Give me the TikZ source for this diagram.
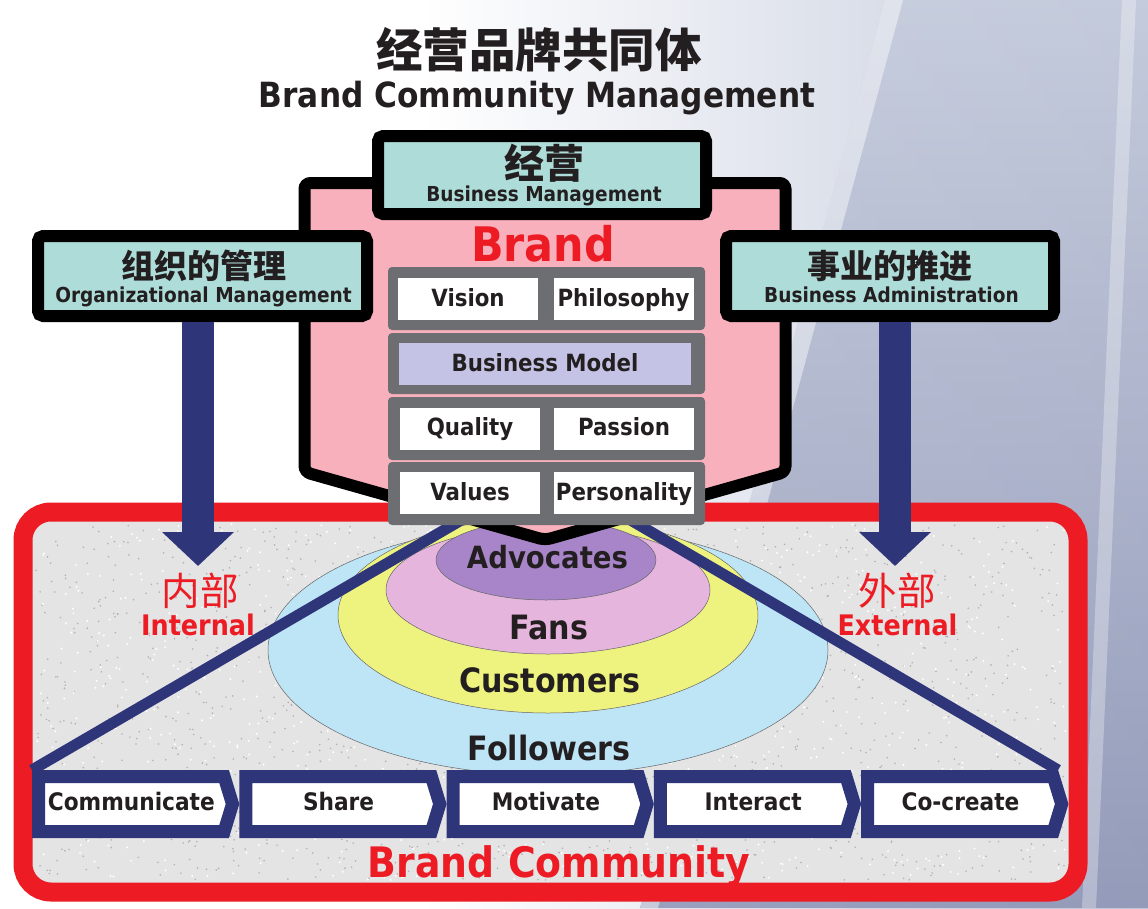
\documentclass[tikz,border=0pt]{standalone}
\usepackage{fontspec}
\setmainfont{DejaVu Sans}[FakeStretch=0.9]
\newfontfamily\cjk{Noto Sans CJK SC}
\usetikzlibrary{arrows.meta,positioning,shapes.symbols}

\definecolor{brandred}{RGB}{237,28,36}
\definecolor{navy}{RGB}{46,53,121}
\definecolor{boxteal}{RGB}{174,221,217}
\definecolor{housepink}{RGB}{248,176,189}
\definecolor{stackgray}{RGB}{109,110,113}
\definecolor{modellilac}{RGB}{197,195,229}
\definecolor{ringblue}{RGB}{190,229,246}
\definecolor{ringyellow}{RGB}{238,242,127}
\definecolor{ringpink}{RGB}{230,181,221}
\definecolor{ringpurple}{RGB}{168,133,200}
\definecolor{granite}{RGB}{228,228,228}
\definecolor{inktext}{RGB}{35,31,32}
\definecolor{bgblue}{RGB}{196,203,220}
\definecolor{bgdeep}{RGB}{140,147,180}

\tikzset{
  tealbox/.style={draw=black, line width=12pt, fill=boxteal, rounded corners=5pt},
  stackrow/.style={fill=stackgray, rounded corners=4pt},
  cell/.style={fill=white, minimum width=140pt, minimum height=42pt, inner sep=0pt,
    text height=18pt, text depth=4pt, text=inktext,
    font=\bfseries\fontsize{23.7}{26}\selectfont},
  procstep/.style={signal, signal to=east, signal pointer angle=146, draw=navy,
    line width=13pt, fill=white, minimum width=194pt, minimum height=55pt,
    inner sep=0pt, text height=18pt, text depth=6pt, text=inktext,
    font=\bfseries\fontsize{24.1}{27}\selectfont},
  ring/.style={draw=black!60, line width=0.5pt},
  ringlabel/.style={anchor=base, text=inktext, font=\bfseries\fontsize{33.5}{36}\selectfont},
  funnel/.style={draw=navy, line width=11pt},
  blockarrow/.style={navy, line width=32pt, -{Triangle[length=34pt,width=70pt]}},
  boxlabel/.style={anchor=base, text=inktext, font=\bfseries\fontsize{20.6}{24}\selectfont},
  boxcjk/.style={text=inktext, inner sep=0pt, font=\cjk\bfseries\fontsize{33}{36}\selectfont},
  sidecjk/.style={text=brandred, inner sep=0pt, font=\cjk\fontsize{38.5}{42}\selectfont},
  sidelabel/.style={anchor=base, text=brandred, font=\bfseries\fontsize{28.3}{31}\selectfont},
}

\begin{document}
\begin{tikzpicture}[x=1pt, y=-1pt]

    \useasboundingbox (0,0) rectangle (1148,908);

    % Background
    \fill[white] (0,0) rectangle (1148,908);
    \shade[left color=white, right color=bgblue] (420,0) rectangle (1148,908);
    \shade[top color=bgblue, bottom color=bgdeep, opacity=0.85]
        (885,0) -- (1148,0) -- (1148,908) -- (640,908) -- cycle;
    \fill[white, opacity=0.45] (885,0) -- (903,0) -- (658,908) -- (640,908) -- cycle;
    \fill[white, opacity=0.3] (1122,0) -- (1136,0) -- (1096,908) -- (1082,908) -- cycle;

    % Brand community frame
    \fill[granite, rounded corners=28pt] (23,512) rectangle (1078,892);
    \pgfmathsetseed{7}
    \foreach \k in {1,...,1600} {
        \pgfmathsetmacro{\dx}{36+1030*rnd}
        \pgfmathsetmacro{\dy}{524+356*rnd}
        \fill[black!30] (\dx,\dy) circle (0.9pt);
    }
    \foreach \k in {1,...,900} {
        \pgfmathsetmacro{\dx}{36+1030*rnd}
        \pgfmathsetmacro{\dy}{524+356*rnd}
        \fill[white] (\dx,\dy) circle (1.1pt);
    }

    % Rings
    \begin{scope}
        \clip[rounded corners=20pt] (32,521) rectangle (1069,883);
        \filldraw[ring, fill=ringblue]   (548,650) ellipse (280 and 125);
        \filldraw[ring, fill=ringyellow] (548,615) ellipse (210 and 98);
        \filldraw[ring, fill=ringpink]   (548,590) ellipse (162 and 64);
        \filldraw[ring, fill=ringpurple] (546,560) ellipse (110 and 40);
    \end{scope}
    \draw[brandred, line width=19pt, rounded corners=28pt] (23,512) rectangle (1078,892);

    % Process steps
    \node[procstep, anchor=west] (comm) at (32,804) {Communicate};
    \node[procstep, right=0pt of comm]  (share)    {Share};
    \node[procstep, right=0pt of share] (motivate) {Motivate};
    \node[procstep, right=0pt of motivate] (interact) {Interact};
    \node[procstep, right=0pt of interact] (cocreate) {Co-create};

    \coordinate (fl) at (470,515);
    \coordinate (fr) at (622,515);
    \draw[funnel] (fl) -- (comm.north west);
    \draw[funnel] (fr) -- (cocreate.north east);

    % Brand house
    \draw[line width=12pt, fill=housepink, rounded corners=6pt]
        (304.5,183) -- (785.5,183) -- (785.5,472) -- (545,540) -- (304.5,472) -- cycle;

    \node[tealbox, minimum width=328pt, minimum height=78pt] (bizmgmt)  at (542,175) {};
    \node[tealbox, minimum width=329pt, minimum height=80pt] (orgmgmt)  at (202.5,276) {};
    \node[tealbox, minimum width=328pt, minimum height=80pt] (bizadmin) at (890,276) {};

    \coordinate (intip) at (198,566);
    \coordinate (extip) at (895,566);
    \draw[blockarrow] (orgmgmt.south -| intip) -- (intip);
    \draw[blockarrow] (bizadmin.south -| extip) -- (extip);

    \foreach \top/\bot in {267/330, 333/394, 397/460, 462/525}
        \fill[stackrow] (388,\top) rectangle (705,\bot);

    \node[cell] (vision)      at (468,299)   {Vision};
    \node[cell] (philosophy)  at (623.5,299) {Philosophy};
    \node[cell, fill=modellilac, minimum width=292pt] (bizmodel) at (545,364) {Business Model};
    \node[cell] (quality)     at (470,428.5) {Quality};
    \node[cell] (passion)     at (624,428.5) {Passion};
    \node[cell] (values)      at (470,493)   {Values};
    \node[cell] (personality) at (624,493)   {Personality};

    % Texts
    \node[text=inktext, font=\cjk\bfseries\fontsize{46.5}{50}\selectfont] (title) at (539,50) {经营品牌共同体};
    \node[anchor=base, text=inktext, font=\bfseries\fontsize{34.7}{38}\selectfont] (subtitle) at (537,107) {Brand Community Management};

    \node[boxcjk, font=\cjk\bfseries\fontsize{40}{44}\selectfont] (jingying) at (544,163) {经营};
    \node[boxlabel] (bizmgmttext) at (544,201) {Business Management};
    \node[boxcjk] (zuzhi) at (204,266) {组织的管理};
    \node[boxlabel] (orgmgmttext) at (203.5,302) {Organizational Management};
    \node[boxcjk] (shiye) at (890,266) {事业的推进};
    \node[boxlabel] (bizadmintext) at (891.5,302) {Business Administration};

    \node[anchor=base, text=brandred, font=\bfseries\fontsize{47.6}{50}\selectfont] (brand) at (543,261) {Brand};

    \node[sidecjk] (neibu) at (200,591) {内部};
    \node[sidelabel] (internal) at (198,635) {Internal};
    \node[sidecjk] (waibu) at (897,591) {外部};
    \node[sidelabel] (external) at (897.5,635) {External};

    \node[ringlabel, font=\bfseries\fontsize{30.6}{33}\selectfont] (advocates) at (547.5,568) {Advocates};
    \node[ringlabel] (fans)      at (549,639) {Fans};
    \node[ringlabel] (customers) at (550,692) {Customers};
    \node[ringlabel] (followers) at (549,760) {Followers};

    \node[anchor=base, text=brandred, font=\bfseries\fontsize{42}{45}\selectfont] (community) at (559,877) {Brand Community};

\end{tikzpicture}
\end{document}
